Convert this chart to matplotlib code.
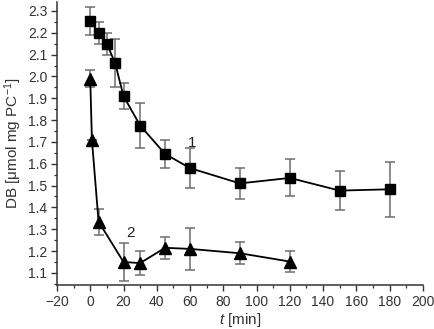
import matplotlib
matplotlib.use("Agg")
import matplotlib.pyplot as plt
from matplotlib.ticker import MultipleLocator

# curve 1 (squares)
t1 = [0, 5, 10, 15, 20, 30, 45, 60, 90, 120, 150, 180]
db1 = [2.255, 2.20, 2.15, 2.06, 1.91, 1.775, 1.645, 1.58, 1.51, 1.535, 1.477, 1.483]
err1 = [0.065, 0.05, 0.05, 0.11, 0.06, 0.105, 0.065, 0.09, 0.07, 0.085, 0.09, 0.125]

# curve 2 (triangles)
t2 = [0, 1, 5, 20, 30, 45, 60, 90, 120]
db2 = [1.99, 1.71, 1.335, 1.15, 1.145, 1.215, 1.21, 1.19, 1.152]
err2 = [0.04, 0.0, 0.06, 0.085, 0.055, 0.05, 0.095, 0.05, 0.05]

plt.rcParams["font.family"] = ["Liberation Sans", "DejaVu Sans"]
plt.rcParams["mathtext.fontset"] = "custom"
plt.rcParams["mathtext.rm"] = "Liberation Sans"
plt.rcParams["mathtext.it"] = "Liberation Sans:italic"

fig = plt.figure(figsize=(4.35, 3.29), dpi=100)
ax = fig.add_axes([0.131, 0.134, 0.841, 0.86])

ebar = dict(ecolor="#6e6e6e", elinewidth=1.1, capsize=3.5, capthick=1.1)
ax.errorbar(t1, db1, yerr=err1, fmt="-s", color="black", lw=1.3,
            markersize=7.5, zorder=3, **ebar)
ax.errorbar(t2, db2, yerr=err2, fmt="-^", color="black", lw=1.3,
            markersize=8.5, zorder=3, **ebar)

ax.text(61, 1.695, "1", fontsize=11, color="#222222", ha="center", va="center")
ax.text(24, 1.282, "2", fontsize=11, color="#222222", ha="center", va="center")

ax.set_xlim(-20, 200)
ax.set_ylim(1.045, 2.341)
ax.xaxis.set_minor_locator(MultipleLocator(10))
ax.yaxis.set_minor_locator(MultipleLocator(0.05))
yt = [1.1 + 0.1 * i for i in range(13)]
ax.set_yticks(yt)
ax.set_yticklabels(["%.1f" % v for v in yt])
xt = list(range(-20, 201, 20))
ax.set_xticks(xt)
ax.set_xticklabels(["\u221220" if v < 0 else str(v) for v in xt])

for s in ["top", "right"]:
    ax.spines[s].set_visible(False)
for s in ["left", "bottom"]:
    ax.spines[s].set_color("#333333")
    ax.spines[s].set_linewidth(1.1)
ax.tick_params(which="major", length=4, width=1, color="#333333",
               labelsize=10, labelcolor="#333333", pad=3)
ax.tick_params(which="minor", length=2.5, width=0.9, color="#333333")

ax.set_xlabel("$t$ [min]", fontsize=11, color="#333333", labelpad=2)
ax.set_ylabel("DB [\u03bcmol mg PC$^{-1}$]", fontsize=11, color="#333333",
              labelpad=3)

plt.savefig("out.png", dpi=100)
